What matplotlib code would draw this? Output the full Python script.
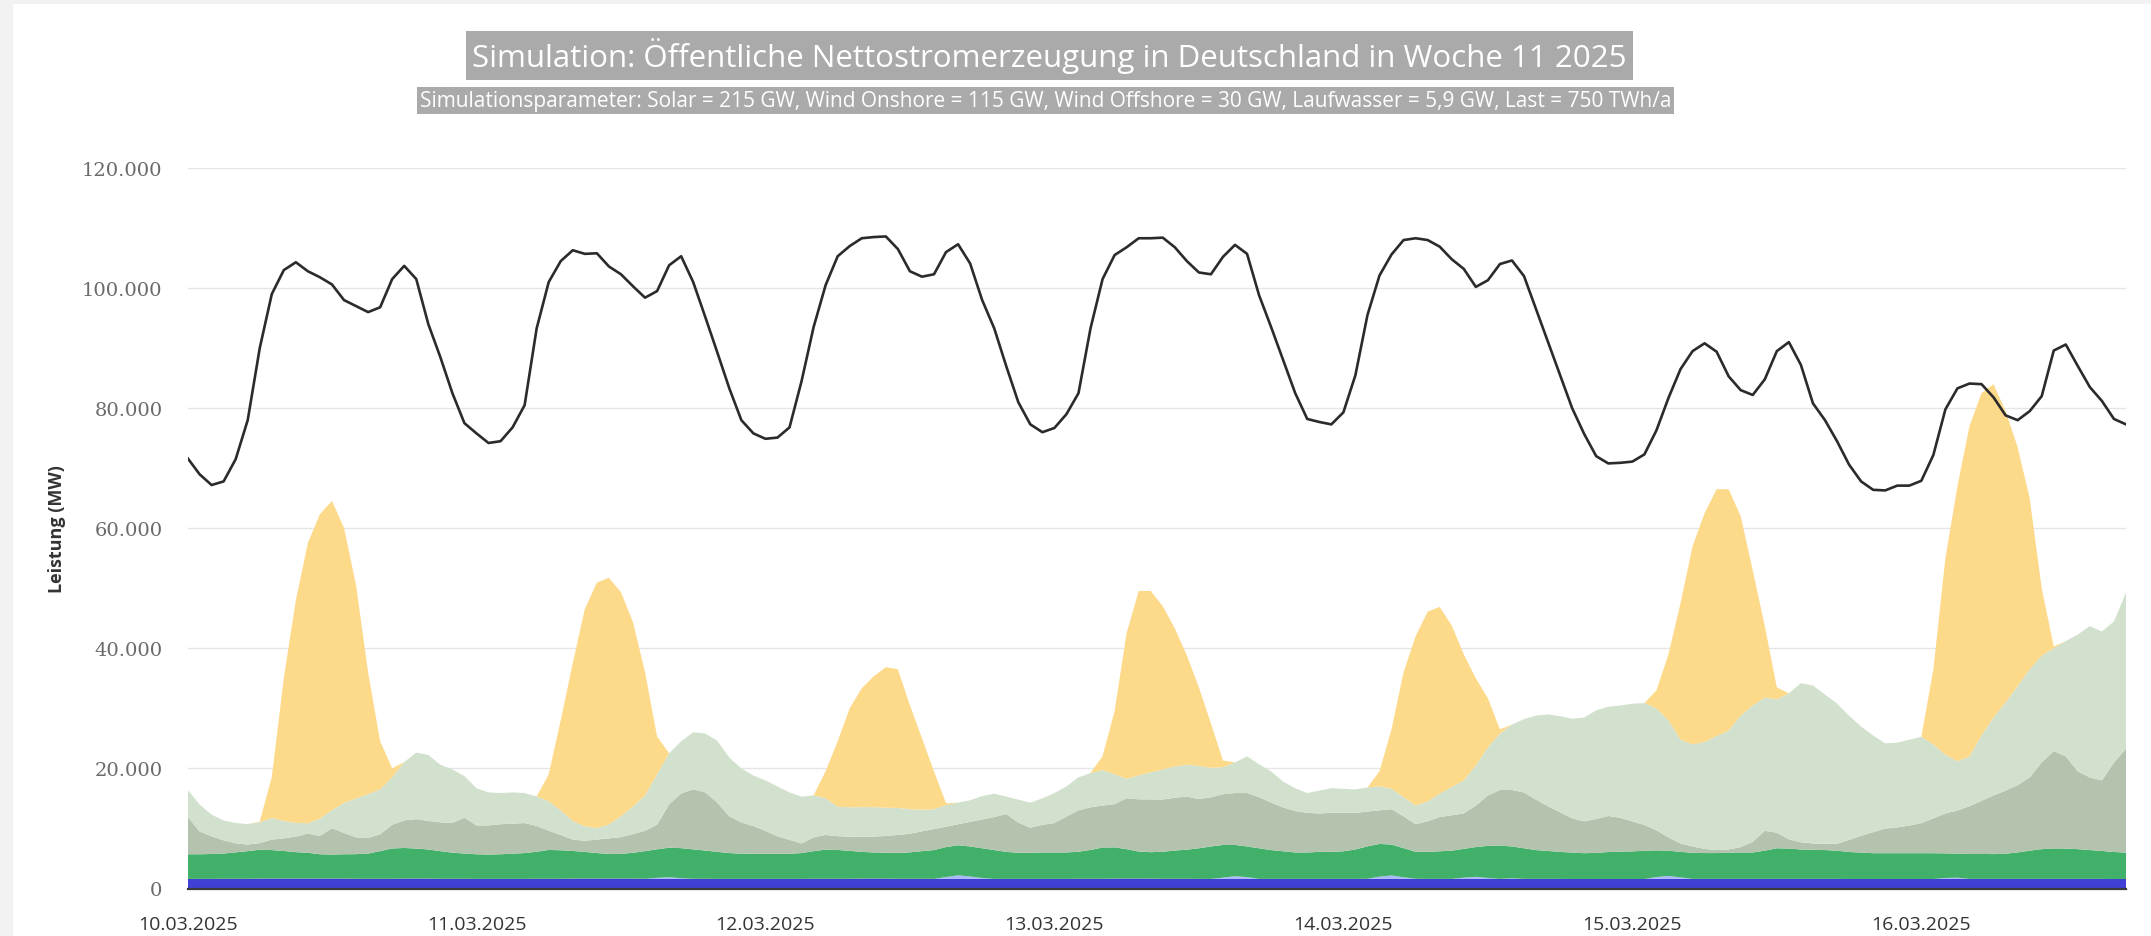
import matplotlib
matplotlib.use("Agg")
import matplotlib.pyplot as plt
from matplotlib.patches import Rectangle

# hours since 10.03.2025 00:00
hours = list(range(162))

day_ticks = [0, 24, 48, 72, 96, 120, 144]
day_labels = ["10.03.2025", "11.03.2025", "12.03.2025", "13.03.2025",
              "14.03.2025", "15.03.2025", "16.03.2025"]

# Laufwasser
hydro = [1600, 1600, 1600, 1620, 1620, 1620, 1650, 1650, 1650, 1650, 1650, 1650,
         1650, 1650, 1620, 1620, 1620, 1620, 1650, 1650, 1650, 1620, 1620, 1620,
         1600, 1600, 1600, 1600, 1600, 1620, 1620, 1620, 1650, 1650, 1650, 1650,
         1650, 1650, 1620, 1620, 1620, 1620, 1620, 1620, 1600, 1600, 1600, 1600,
         1600, 1600, 1600, 1600, 1620, 1620, 1620, 1620, 1650, 1650, 1650, 1620,
         1620, 1620, 1600, 1600, 1600, 1600, 1600, 1600, 1600, 1600, 1600, 1600,
         1600, 1600, 1620, 1620, 1620, 1650, 1650, 1650, 1650, 1620, 1620, 1620,
         1600, 1600, 1600, 1600, 1600, 1600, 1600, 1600, 1600, 1600, 1600, 1600,
         1600, 1600, 1620, 1620, 1620, 1620, 1620, 1600, 1600, 1600, 1600, 1600,
         1600, 1600, 1600, 1600, 1600, 1600, 1600, 1580, 1580, 1580, 1580, 1580,
         1580, 1580, 1600, 1600, 1600, 1600, 1600, 1600, 1600, 1600, 1600, 1600,
         1600, 1600, 1600, 1600, 1600, 1600, 1580, 1580, 1580, 1580, 1580, 1580,
         1580, 1580, 1600, 1600, 1600, 1600, 1600, 1600, 1600, 1600, 1600, 1600,
         1600, 1600, 1600, 1600, 1580, 1580]

# Pumpspeicher (thin light blue bumps)
pumped = [0, 0, 0, 0, 0, 0, 0, 0, 0, 0, 0, 0,
          0, 0, 0, 0, 0, 0, 0, 0, 0, 0, 0, 0,
          0, 0, 0, 0, 0, 0, 0, 0, 0, 0, 0, 0,
          0, 0, 0, 150, 250, 100, 0, 0, 0, 0, 0, 0,
          0, 0, 0, 0, 0, 0, 0, 0, 0, 0, 0, 0,
          0, 0, 0, 300, 600, 400, 150, 0, 0, 0, 0, 0,
          0, 0, 0, 0, 0, 0, 0, 0, 0, 0, 0, 0,
          0, 0, 200, 450, 300, 0, 0, 0, 0, 0, 0, 0,
          0, 0, 0, 350, 550, 250, 0, 0, 0, 0, 200, 350,
          150, 0, 100, 0, 0, 0, 0, 0, 0, 0, 0, 0,
          0, 0, 300, 500, 250, 0, 0, 0, 0, 0, 0, 0,
          0, 0, 0, 0, 0, 0, 0, 0, 0, 0, 0, 0,
          0, 0, 150, 200, 0, 0, 0, 0, 0, 0, 0, 0,
          0, 0, 0, 0, 0, 0]

biomass = [4100, 4100, 4150, 4200, 4400, 4600, 4800, 4750, 4600, 4400, 4300, 4050,
           4000, 4050, 4100, 4200, 4600, 5050, 5100, 5000, 4850, 4600, 4350, 4200,
           4100, 4050, 4100, 4200, 4300, 4500, 4800, 4750, 4600, 4450, 4250, 4100,
           4100, 4300, 4600, 4750, 4930, 5000, 4900, 4700, 4500, 4300, 4200, 4180,
           4180, 4180, 4180, 4300, 4600, 4850, 4800, 4650, 4450, 4350, 4300, 4300,
           4400, 4600, 4800, 5000, 5000, 5000, 4950, 4800, 4500, 4350, 4350, 4400,
           4400, 4400, 4500, 4800, 5200, 5200, 4900, 4500, 4400, 4500, 4700, 4850,
           5100, 5400, 5450, 5200, 5100, 5100, 4800, 4600, 4400, 4400, 4500, 4500,
           4600, 4900, 5400, 5450, 5150, 4850, 4500, 4500, 4600, 4700, 4800, 4950,
           5350, 5550, 5300, 5100, 4800, 4650, 4500, 4400, 4300, 4350, 4500, 4550,
           4600, 4700, 4450, 4200, 4250, 4350, 4300, 4300, 4350, 4400, 4400, 4700,
           5100, 5050, 4900, 4850, 4800, 4700, 4500, 4400, 4300, 4300, 4300, 4300,
           4300, 4300, 4100, 4000, 4150, 4150, 4130, 4200, 4400, 4700, 4950, 5070,
           5050, 4950, 4800, 4650, 4500, 4400]

wind_offshore = [6300, 3800, 2950, 2200, 1500, 1100, 1100, 1750, 2100, 2600, 3200, 3050,
                 4400, 3550, 2800, 2600, 2800, 3950, 4600, 4900, 4750, 4800, 4950, 6000,
                 4800, 4850, 5000, 5000, 5000, 4300, 3200, 2550, 1900, 1850, 2250, 2600,
                 2800, 3100, 3400, 4100, 7220, 9100, 10000, 9700, 8200, 6100, 5200, 4620,
                 3820, 2920, 2320, 1600, 2300, 2450, 2300, 2350, 2550, 2650, 2800, 3000,
                 3100, 3300, 3500, 3400, 3500, 4100, 4800, 5500, 6300, 5050, 4150, 4600,
                 4900, 6000, 6900, 7100, 7000, 7200, 8500, 8700, 8800, 8700, 8800, 8850,
                 8200, 8200, 8450, 8650, 8900, 8500, 7900, 7300, 6900, 6600, 6400, 6500,
                 6400, 6100, 5800, 5600, 5900, 5300, 4600, 5100, 5700, 5900, 5900, 6900,
                 8400, 9250, 9400, 9300, 8400, 7450, 6600, 5700, 5300, 5650, 6000, 5650,
                 5000, 4300, 3350, 2200, 1400, 1050, 700, 500, 550, 900, 1800, 3300,
                 2600, 1550, 1200, 1050, 1050, 1150, 2000, 2800, 3500, 4100, 4300, 4600,
                 5000, 5800, 6650, 7200, 7950, 8850, 9770, 10500, 11200, 12200, 14450, 16230,
                 15350, 12950, 12100, 11750, 14900, 17300]

wind_onshore = [4500, 4500, 3600, 3300, 3400, 3400, 3500, 3600, 2900, 2300, 1700, 2900,
                3000, 5000, 6500, 7300, 7500, 7900, 9700, 11100, 11000, 9600, 8900, 6900,
                6200, 5500, 5200, 5200, 5000, 4900, 4900, 4100, 3100, 2400, 1900, 2300,
                3500, 4600, 5900, 8400, 8500, 8700, 9500, 9800, 10300, 9800, 9000, 8400,
                8400, 8300, 7900, 7800, 7000, 6100, 4900, 4900, 4900, 4900, 4700, 4500,
                4100, 3600, 3300, 3600, 3600, 3600, 3900, 3900, 2900, 3800, 4200, 4400,
                5000, 5000, 5500, 5700, 5900, 5000, 3200, 4000, 4500, 5000, 5200, 5300,
                5500, 4900, 4500, 5100, 6100, 5500, 5200, 4300, 3800, 3300, 3800, 4100,
                4000, 3900, 4000, 4000, 3400, 3200, 3100, 3300, 3900, 4700, 5500, 6700,
                8000, 9400, 10900, 12200, 14000, 15300, 16000, 16600, 17300, 18100, 18200, 18700,
                19600, 20300, 20300, 19500, 17300, 17000, 17800, 19000, 19800, 21900, 22700, 22200,
                22200, 24300, 26500, 26300, 24850, 23350, 20700, 18200, 16100, 14200, 14100, 14300,
                14400, 12300, 9800, 8200, 8300, 10900, 13000, 14700, 16500, 18000, 17800, 17100,
                19200, 22800, 25200, 24800, 23500, 26000]

solar = [0, 0, 0, 0, 0, 0, 100, 6800, 23800, 37100, 46700, 50700,
         51500, 45800, 35500, 20300, 8000, 1500, 0, 0, 0, 0, 0, 0,
         0, 0, 0, 0, 0, 0, 4500, 15000, 26300, 36200, 40900, 41100,
         37300, 30700, 20500, 6300, 0, 0, 0, 0, 0, 0, 0, 0,
         0, 0, 0, 0, 0, 4500, 10900, 16500, 19800, 21800, 23400, 23100,
         17300, 11900, 6300, 300, 0, 0, 0, 0, 0, 0, 0, 0,
         0, 0, 0, 0, 2300, 10500, 24300, 30700, 30200, 27200, 23000, 18200,
         13100, 7400, 1100, 0, 0, 0, 0, 0, 0, 0, 0, 0,
         0, 0, 0, 2500, 9900, 20800, 28200, 31600, 31100, 26900, 21000, 14500,
         8200, 700, 0, 0, 0, 0, 0, 0, 0, 0, 0, 0,
         0, 0, 3000, 11000, 22700, 33000, 38100, 41100, 40200, 33200, 22500, 11900,
         2000, 0, 0, 0, 0, 0, 0, 0, 0, 0, 0, 0,
         0, 12500, 32700, 45800, 55000, 57000, 55500, 48500, 39800, 28500, 11200, 300,
         0, 0, 0, 0, 0, 0]

# Last
load = [71700, 69000, 67200, 67800, 71500, 78000, 90000, 99000, 103000, 104300, 102800, 101800,
        100600, 98000, 97000, 96000, 96800, 101500, 103700, 101500, 94000, 88500, 82500, 77500,
        75800, 74200, 74500, 76800, 80500, 93300, 101000, 104500, 106300, 105700, 105800, 103600,
        102300, 100300, 98400, 99500, 103800, 105300, 101000, 95200, 89300, 83300, 78000, 75800,
        74900, 75100, 76800, 84500, 93500, 100500, 105300, 107000, 108300, 108500, 108600, 106500,
        102800, 101900, 102300, 106000, 107300, 104100, 98000, 93300, 87000, 81000, 77300, 76000,
        76700, 79000, 82500, 93300, 101500, 105500, 106800, 108300, 108300, 108400, 106800, 104500,
        102600, 102300, 105200, 107200, 105700, 98800, 93500, 88000, 82500, 78200, 77700, 77300,
        79300, 85500, 95500, 102100, 105600, 108000, 108300, 108000, 106900, 104800, 103200, 100200,
        101300, 104000, 104600, 102000, 96500, 91000, 85500, 80000, 75700, 72000, 70800, 70900,
        71100, 72300, 76300, 81700, 86500, 89500, 90800, 89400, 85300, 83000, 82200, 84800,
        89500, 91000, 87200, 80800, 78000, 74500, 70600, 67800, 66400, 66300, 67100, 67100,
        67900, 72200, 79800, 83300, 84100, 84000, 81800, 78800, 78000, 79500, 82000, 89600,
        90600, 87000, 83500, 81200, 78200, 77300]

colors = ["#4040d4", "#aab8f8", "#41b068", "#b3c3ae", "#d2e1cd", "#fdd98a"]

W, H = 2151, 937
fig = plt.figure(figsize=(W / 100, H / 100), dpi=100)
fig.patch.set_facecolor("white")
fig.patches.append(Rectangle((0, 0), 12 / W, 1, transform=fig.transFigure,
                             color="#f2f2f2", zorder=0))
fig.patches.append(Rectangle((0, 1 - 4 / H), 1, 4 / H, transform=fig.transFigure,
                             color="#f2f2f2", zorder=0))

x0, x1, y0, y1 = 187.5, 2126, 169, 889.5
ax = fig.add_axes([x0 / W, 1 - y1 / H, (x1 - x0) / W, (y1 - y0) / H])

ax.stackplot(hours, hydro, pumped, biomass, wind_offshore, wind_onshore, solar,
             colors=colors, linewidth=0, zorder=2)
ax.plot(hours, load, color="#2b2b2b", lw=1.9, zorder=4)

ax.set_xlim(0, 161)
ax.set_ylim(0, 120000)
ax.set_yticks(range(0, 120001, 20000))
ax.set_yticklabels([f"{v:,}".replace(",", ".") for v in range(0, 120001, 20000)],
                   fontfamily="DejaVu Serif", fontsize=14, color="#6a6a6a")
ax.set_xticks(day_ticks)
ax.set_xticklabels(day_labels, fontfamily="Open Sans", fontsize=14, color="#333333")
ax.tick_params(axis="y", length=0, pad=18)
ax.tick_params(axis="x", length=0, pad=19)

ax.yaxis.grid(True, color="#000000", alpha=0.10, lw=1, zorder=3)
for s in ["top", "right", "left"]:
    ax.spines[s].set_visible(False)
ax.spines["bottom"].set_color("#3a3a3a")
ax.spines["bottom"].set_linewidth(1.6)
ax.spines["bottom"].set_zorder(5)

ax.set_ylabel("Leistung (MW)", fontfamily="Open Sans", fontweight="bold",
              fontsize=13, color="#333333")
ax.yaxis.set_label_coords((66 - x0) / (x1 - x0), 0.5)

fig.text(0.488, 1 - 56.5 / H,
         "Simulation: Öffentliche Nettostromerzeugung in Deutschland in Woche 11 2025",
         ha="center", va="center", fontfamily="Open Sans", fontsize=22.5, color="white",
         bbox=dict(boxstyle="square,pad=0.2", fc="#aaaaaa", ec="none"))
fig.text(0.486, 1 - 101.5 / H,
         "Simulationsparameter: Solar = 215 GW, Wind Onshore = 115 GW, Wind Offshore = 30 GW, "
         "Laufwasser = 5,9 GW, Last = 750 TWh/a",
         ha="center", va="center", fontfamily="Open Sans", fontsize=15, color="white",
         bbox=dict(boxstyle="square,pad=0.15", fc="#aaaaaa", ec="none"))

fig.savefig("out.png", dpi=100)
